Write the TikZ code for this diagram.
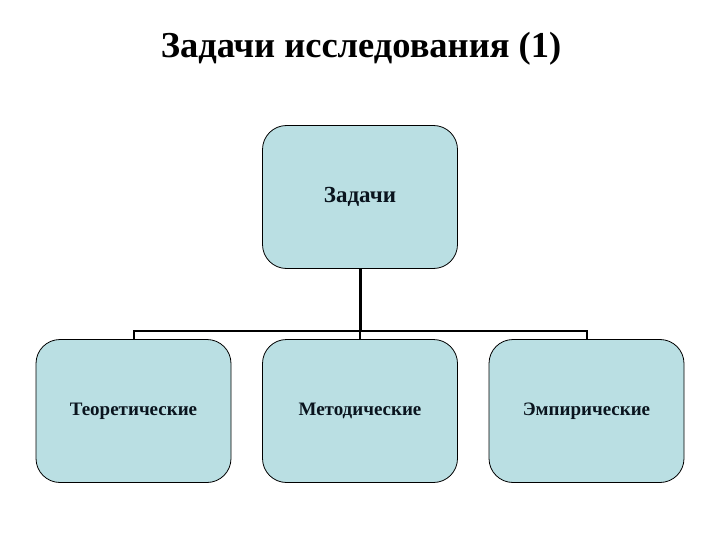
\documentclass[tikz,border=0pt]{standalone}
\usepackage{fontspec}
\setmainfont{Liberation Serif}
\begin{document}
\begin{tikzpicture}[x=1pt,y=-1pt,
  box/.style={draw=black, line width=0.8pt, fill=boxfill, rounded corners=24pt,
    minimum width=195pt, minimum height=143pt, inner sep=0pt,
    font=\fontsize{19}{22}\selectfont\bfseries, text=textcol},
  conn/.style={draw=black, line width=2pt}]
\definecolor{boxfill}{RGB}{186,223,227}
\definecolor{textcol}{RGB}{10,20,30}
\useasboundingbox (0,0) rectangle (720,540);
\node[font=\fontsize{36.5}{40}\selectfont\bfseries] (title) at (361,49) {Задачи исследования (1)};
\node[box, font=\fontsize{23}{26}\selectfont\bfseries] (top) at (360,197) {Задачи};
\node[box] (t) at (133.5,411) {Теоретические};
\node[box] (m) at (360,411) {Методические};
\node[box] (e) at (586.5,411) {Эмпирические};
\coordinate (bus) at (360,331);
\draw[conn, line width=3pt] (top.south) -- (bus);
\draw[conn] (t.north) -- (t.north |- bus) -- (e.north |- bus) -- (e.north);
\draw[conn] (m.north) -- (bus);
\end{tikzpicture}
\end{document}
